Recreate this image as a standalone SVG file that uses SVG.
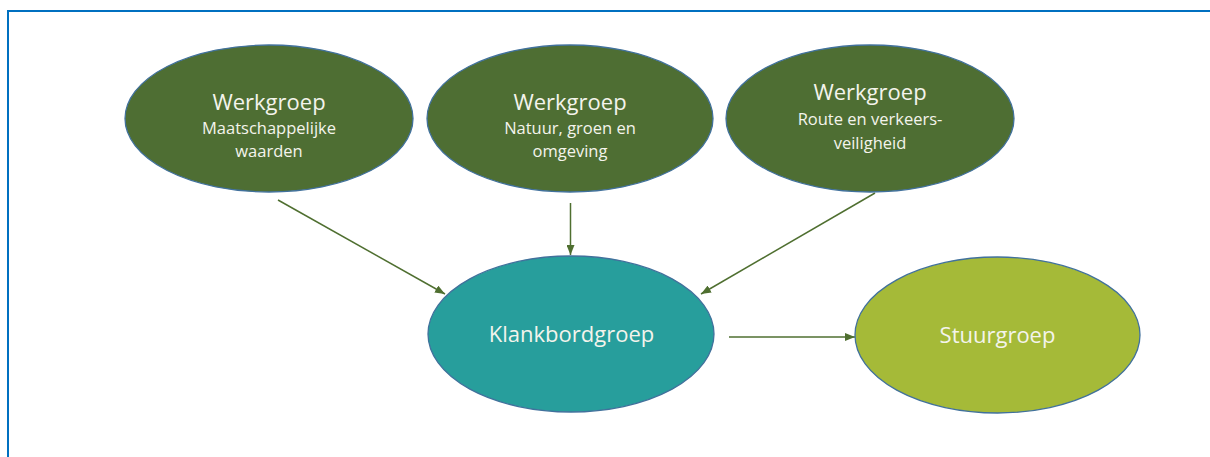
<svg xmlns="http://www.w3.org/2000/svg" width="1210" height="457" viewBox="0 0 1210 457">
<defs>
<style>
.wg{fill:#4E6E33;stroke:#41719C;stroke-width:1.3}
.kb{fill:#279E9C;stroke:#41719C;stroke-width:1.3}
.sg{fill:#A5BA38;stroke:#41719C;stroke-width:1.3}
.t{font-family:"Open Sans","Liberation Sans",sans-serif;fill:#F4F4EC;text-anchor:middle}
.big{font-size:22px}
.sm{font-size:16.5px}
.c{stroke:#4F6F30;stroke-width:1.5;fill:none;marker-end:url(#ah)}
</style>
<marker id="ah" viewBox="0 0 10 8" refX="10" refY="4" markerWidth="10" markerHeight="8" markerUnits="userSpaceOnUse" orient="auto">
<path d="M0,0 L10,4 L0,8 Z" fill="#4F6F30"/>
</marker>
</defs>
<rect width="1210" height="457" fill="#FFFFFF"/>
<rect x="8" y="11" width="1220" height="470" fill="none" stroke="#0070C0" stroke-width="2"/>
<g id="connectors">
<line class="c" x1="278" y1="200" x2="445" y2="294"/>
<line class="c" x1="570.5" y1="203" x2="570.5" y2="255"/>
<line class="c" x1="875" y1="193" x2="701" y2="294"/>
<line class="c" x1="729" y1="337" x2="855" y2="337"/>
</g>
<g id="wg1">
<ellipse class="wg" cx="269" cy="118.5" rx="144" ry="73.5"/>
<text class="t big" x="269" y="110">Werkgroep</text>
<text class="t sm" x="269" y="134">Maatschappelijke</text>
<text class="t sm" x="269" y="157">waarden</text>
</g>
<g id="wg2">
<ellipse class="wg" cx="570" cy="118.5" rx="143" ry="73.5"/>
<text class="t big" x="570" y="109.5">Werkgroep</text>
<text class="t sm" x="570" y="134">Natuur, groen en</text>
<text class="t sm" x="570" y="156.5">omgeving</text>
</g>
<g id="wg3">
<ellipse class="wg" cx="870" cy="118.5" rx="144" ry="73.5"/>
<text class="t big" x="870" y="100">Werkgroep</text>
<text class="t sm" x="870" y="125">Route en verkeers-</text>
<text class="t sm" x="870" y="149">veiligheid</text>
</g>
<g id="klankbordgroep">
<ellipse class="kb" cx="571" cy="334" rx="143" ry="78"/>
<text class="t big" x="571.5" y="342">Klankbordgroep</text>
</g>
<g id="stuurgroep">
<ellipse class="sg" cx="997.5" cy="335" rx="142.5" ry="78"/>
<text class="t big" x="997.5" y="343">Stuurgroep</text>
</g>
</svg>
